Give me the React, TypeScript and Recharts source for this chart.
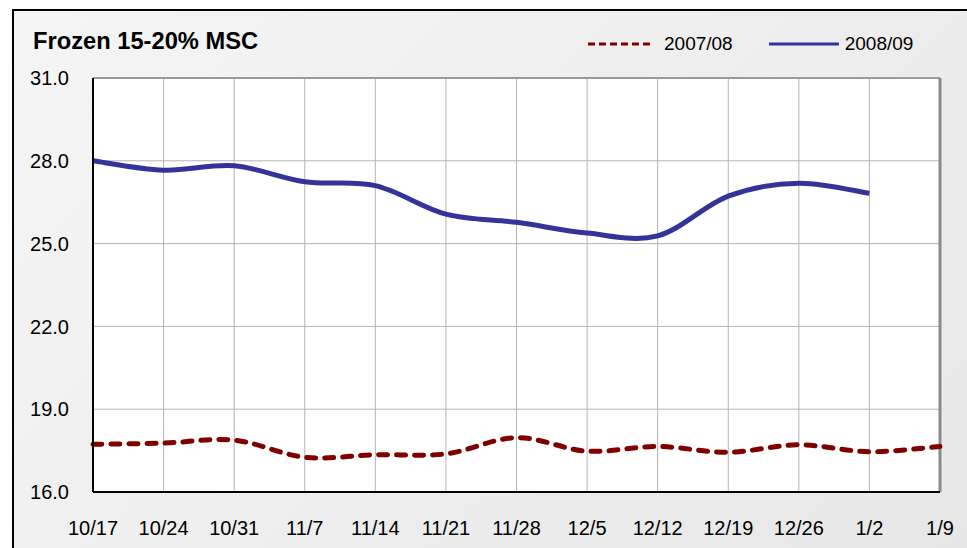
import { LineChart, Line, XAxis, YAxis, CartesianGrid, ReferenceLine } from "recharts";

const weeks = ["10/17", "10/24", "10/31", "11/7", "11/14", "11/21", "11/28", "12/5", "12/12", "12/19", "12/26", "1/2", "1/9"];
const season0708 = [17.73, 17.77, 17.88, 17.26, 17.35, 17.38, 17.97, 17.48, 17.65, 17.44, 17.71, 17.46, 17.65];
const season0809 = [28.0, 27.66, 27.82, 27.24, 27.1, 26.07, 25.77, 25.38, 25.28, 26.72, 27.19, 26.82, null];
const yTicks = [16, 19, 22, 25, 28, 31];

const data = weeks.map((w, i) => ({ week: w, s0708: season0708[i], s0809: season0809[i] }));

const FONT = "'Liberation Sans', Arial, sans-serif";

// Excel-style smoothed line (cardinal spline, tension 0)
function smoothCurve(context: any) {
  let pts: number[][] = [];
  return {
    areaStart() {},
    areaEnd() {},
    lineStart() {
      pts = [];
    },
    lineEnd() {
      if (!pts.length) return;
      context.moveTo(pts[0][0], pts[0][1]);
      for (let i = 0; i < pts.length - 1; i++) {
        const p0 = pts[i - 1] || pts[i];
        const p1 = pts[i];
        const p2 = pts[i + 1];
        const p3 = pts[i + 2] || pts[i + 1];
        context.bezierCurveTo(
          p1[0] + (p2[0] - p0[0]) / 6,
          p1[1] + (p2[1] - p0[1]) / 6,
          p2[0] - (p3[0] - p1[0]) / 6,
          p2[1] - (p3[1] - p1[1]) / 6,
          p2[0],
          p2[1]
        );
      }
    },
    point(x: number, y: number) {
      pts.push([+x, +y]);
    },
  };
}

export default function App() {
  return (
    <div style={{ position: "absolute", left: 0, top: 0, width: 967, height: 548, overflow: "hidden", fontFamily: FONT }}>
      <div
        style={{
          position: "absolute",
          left: 12,
          top: 9,
          width: 1000,
          height: 600,
          border: "2px solid #000",
          background: "linear-gradient(135deg, #f5f5f5 0%, #e6e6e6 100%)",
        }}
      />
      <div
        style={{ position: "absolute", left: 33, top: 29, fontSize: 23.7, fontWeight: "bold", lineHeight: "24px", color: "#000" }}
      >
        Frozen 15-20% MSC
      </div>

      <div style={{ position: "absolute", left: 588, top: 34, fontSize: 19, lineHeight: "19px", color: "#000", display: "flex", alignItems: "center" }}>
        <svg width={66} height={10} style={{ marginRight: 10 }}>
          <line x1={0} y1={5} x2={66} y2={5} stroke="#800000" strokeWidth={3} strokeDasharray="7 4" />
        </svg>
        <span>2007/08</span>
        <svg width={70} height={10} style={{ marginLeft: 36, marginRight: 6 }}>
          <line x1={0} y1={5} x2={70} y2={5} stroke="#333399" strokeWidth={3} />
        </svg>
        <span>2008/09</span>
      </div>

      <div style={{ position: "absolute", left: 0, top: 0 }}>
        <LineChart width={967} height={548} data={data} margin={{ top: 78, right: 27, bottom: 16, left: 0 }}>
          <CartesianGrid stroke="#b4b4b4" strokeWidth={1} fill="#ffffff" />
          <XAxis
            dataKey="week"
            interval={0}
            tickSize={0}
            tickMargin={29}
            height={40}
            axisLine={{ stroke: "#000", strokeWidth: 2 }}
            tick={{ fill: "#000", fontSize: 20, fontFamily: FONT }}
          />
          <YAxis
            domain={[16, 31]}
            ticks={yTicks}
            interval={0}
            width={93}
            tickSize={0}
            tickMargin={24}
            tickFormatter={(v: number) => v.toFixed(1)}
            axisLine={{ stroke: "#000", strokeWidth: 2 }}
            tick={{ fill: "#000", fontSize: 20, fontFamily: FONT }}
          />
          <ReferenceLine y={31} stroke="#9a9a9a" strokeWidth={2} />
          <ReferenceLine x="1/9" stroke="#8a8a8a" strokeWidth={3} />
          <Line
            dataKey="s0708"
            type={smoothCurve as any}
            stroke="#800000"
            strokeWidth={5}
            strokeDasharray="9 9"
            strokeLinecap="round"
            dot={false}
            activeDot={false}
            isAnimationActive={false}
          />
          <Line
            dataKey="s0809"
            type={smoothCurve as any}
            stroke="#333399"
            strokeWidth={5}
            dot={false}
            activeDot={false}
            isAnimationActive={false}
          />
        </LineChart>
      </div>
    </div>
  );
}
